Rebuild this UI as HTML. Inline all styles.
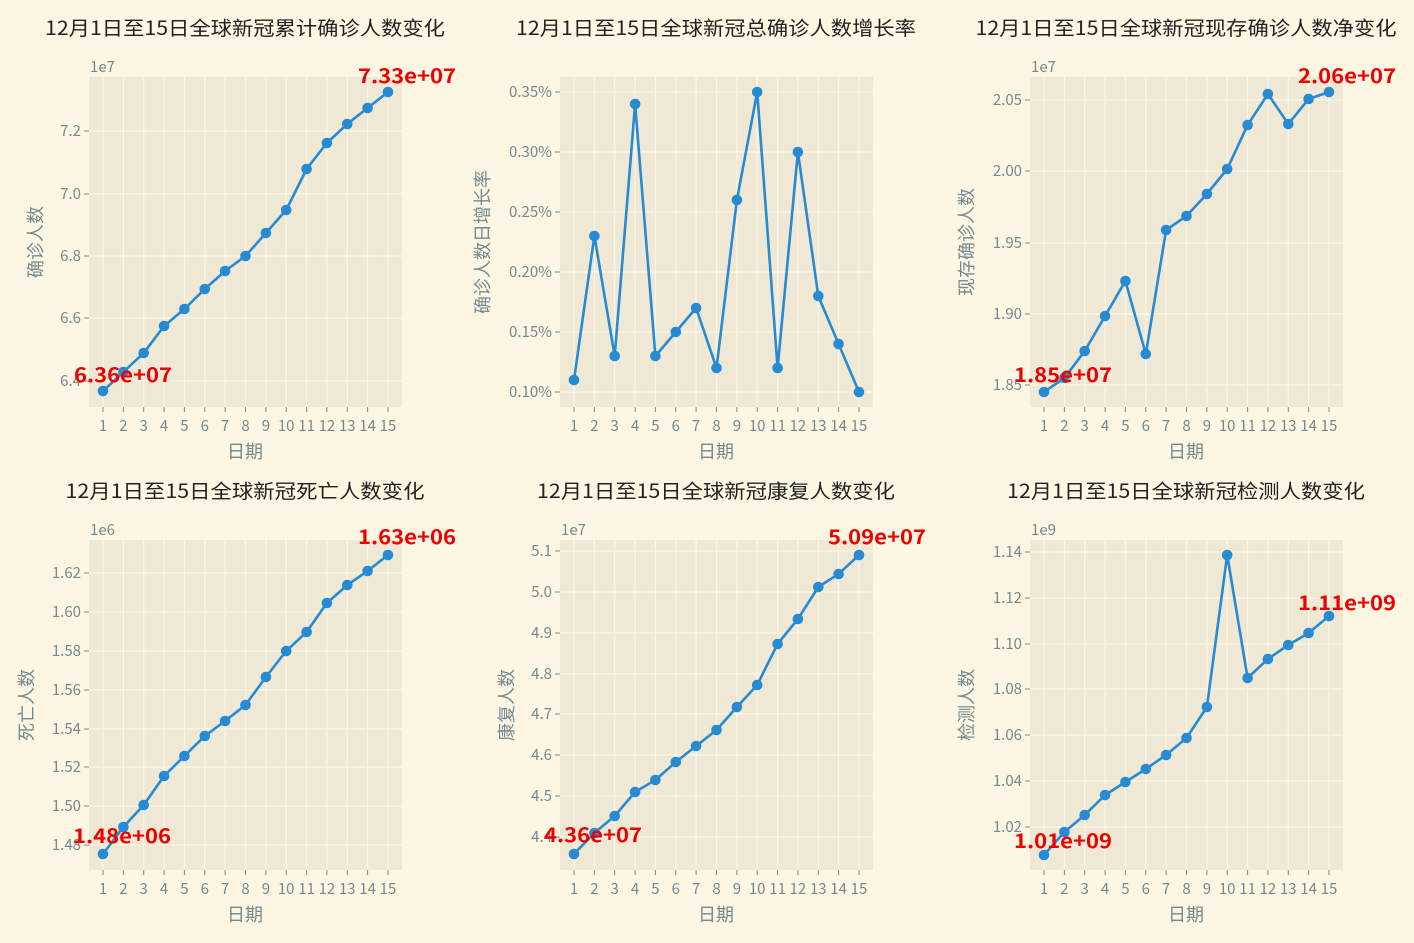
<!DOCTYPE html>
<html><head><meta charset="utf-8"><style>
body{margin:0;background:#fdf6e3}
svg{display:block}
text{font-family:"Noto Sans CJK SC","Liberation Sans",sans-serif}
.t{font-size:19.5px;fill:#222;text-anchor:middle}
.k{font-size:15px;fill:#738a8f}
.yl{text-anchor:end}
.xl{text-anchor:middle}
.lab{font-size:18px;fill:#738a8f;text-anchor:middle}
.an{font-size:20px;fill:#ee0000;font-weight:bold;text-anchor:middle}
.g{stroke:#fdf6e3;stroke-width:1.2}
.tk{stroke:#738a8f;stroke-width:1}
.ln{fill:none;stroke:#268bd2;stroke-width:2.6}
.pt{fill:#268bd2}
</style></head><body>
<svg width="1414" height="943" viewBox="0 0 1414 943" xmlns="http://www.w3.org/2000/svg">
<rect width="1414" height="943" fill="#fdf6e3"/>

<!-- Panel 1 -->
<g transform="translate(89,77)">
<rect width="313" height="330" fill="#eee8d5"/>
<g class="g"><path d="M14 0V330M34.4 0V330M54.7 0V330M75.1 0V330M95.4 0V330M115.8 0V330M136.1 0V330M156.5 0V330M176.9 0V330M197.2 0V330M217.6 0V330M237.9 0V330M258.3 0V330M278.6 0V330M299 0V330M0 304H313M0 241H313M0 179H313M0 117H313M0 54H313"/></g>
<g class="tk"><path d="M14 330v5M34.4 330v5M54.7 330v5M75.1 330v5M95.4 330v5M115.8 330v5M136.1 330v5M156.5 330v5M176.9 330v5M197.2 330v5M217.6 330v5M237.9 330v5M258.3 330v5M278.6 330v5M299 330v5M-5 304h5M-5 241h5M-5 179h5M-5 117h5M-5 54h5"/></g>
<polyline class="ln" points="14,314 34.4,295 54.7,276 75.1,249 95.4,232 115.8,212 136.1,194 156.5,179 176.9,156 197.2,133 217.6,92 237.9,66 258.3,47 278.6,31 299,15"/>
<g class="pt"><circle cx="14" cy="314" r="5.3"/><circle cx="34.4" cy="295" r="5.3"/><circle cx="54.7" cy="276" r="5.3"/><circle cx="75.1" cy="249" r="5.3"/><circle cx="95.4" cy="232" r="5.3"/><circle cx="115.8" cy="212" r="5.3"/><circle cx="136.1" cy="194" r="5.3"/><circle cx="156.5" cy="179" r="5.3"/><circle cx="176.9" cy="156" r="5.3"/><circle cx="197.2" cy="133" r="5.3"/><circle cx="217.6" cy="92" r="5.3"/><circle cx="237.9" cy="66" r="5.3"/><circle cx="258.3" cy="47" r="5.3"/><circle cx="278.6" cy="31" r="5.3"/><circle cx="299" cy="15" r="5.3"/></g>
<g class="k yl"><text x="-8" y="309">6.4</text><text x="-8" y="246">6.6</text><text x="-8" y="184">6.8</text><text x="-8" y="122">7.0</text><text x="-8" y="59">7.2</text></g>
<g class="k xl"><text x="14" y="354">1</text><text x="34.4" y="354">2</text><text x="54.7" y="354">3</text><text x="75.1" y="354">4</text><text x="95.4" y="354">5</text><text x="115.8" y="354">6</text><text x="136.1" y="354">7</text><text x="156.5" y="354">8</text><text x="176.9" y="354">9</text><text x="197.2" y="354">10</text><text x="217.6" y="354">11</text><text x="237.9" y="354">12</text><text x="258.3" y="354">13</text><text x="278.6" y="354">14</text><text x="299" y="354">15</text></g>
<text class="k" x="1" y="-5">1e7</text>
<text class="lab" x="156" y="381">日期</text>
<text class="lab" transform="translate(-47,165) rotate(-90)">确诊人数</text>
<text class="t" x="156" y="-42" textLength="400" lengthAdjust="spacingAndGlyphs">12月1日至15日全球新冠累计确诊人数变化</text>
<text class="an" x="34" y="305" textLength="98" lengthAdjust="spacingAndGlyphs">6.36e+07</text>
<text class="an" x="318" y="6" textLength="98" lengthAdjust="spacingAndGlyphs">7.33e+07</text>
</g>

<!-- Panel 2 -->
<g transform="translate(560,77)">
<rect width="313" height="330" fill="#eee8d5"/>
<g class="g"><path d="M14 0V330M34.4 0V330M54.7 0V330M75.1 0V330M95.4 0V330M115.8 0V330M136.1 0V330M156.5 0V330M176.9 0V330M197.2 0V330M217.6 0V330M237.9 0V330M258.3 0V330M278.6 0V330M299 0V330M0 315H313M0 255H313M0 195H313M0 135H313M0 75H313M0 15H313"/></g>
<g class="tk"><path d="M14 330v5M34.4 330v5M54.7 330v5M75.1 330v5M95.4 330v5M115.8 330v5M136.1 330v5M156.5 330v5M176.9 330v5M197.2 330v5M217.6 330v5M237.9 330v5M258.3 330v5M278.6 330v5M299 330v5M-5 315h5M-5 255h5M-5 195h5M-5 135h5M-5 75h5M-5 15h5"/></g>
<polyline class="ln" points="14,303 34.4,159 54.7,279 75.1,27 95.4,279 115.8,255 136.1,231 156.5,291 176.9,123 197.2,15 217.6,291 237.9,75 258.3,219 278.6,267 299,315"/>
<g class="pt"><circle cx="14" cy="303" r="5.3"/><circle cx="34.4" cy="159" r="5.3"/><circle cx="54.7" cy="279" r="5.3"/><circle cx="75.1" cy="27" r="5.3"/><circle cx="95.4" cy="279" r="5.3"/><circle cx="115.8" cy="255" r="5.3"/><circle cx="136.1" cy="231" r="5.3"/><circle cx="156.5" cy="291" r="5.3"/><circle cx="176.9" cy="123" r="5.3"/><circle cx="197.2" cy="15" r="5.3"/><circle cx="217.6" cy="291" r="5.3"/><circle cx="237.9" cy="75" r="5.3"/><circle cx="258.3" cy="219" r="5.3"/><circle cx="278.6" cy="267" r="5.3"/><circle cx="299" cy="315" r="5.3"/></g>
<g class="k yl"><text x="-8" y="320">0.10%</text><text x="-8" y="260">0.15%</text><text x="-8" y="200">0.20%</text><text x="-8" y="140">0.25%</text><text x="-8" y="80">0.30%</text><text x="-8" y="20">0.35%</text></g>
<g class="k xl"><text x="14" y="354">1</text><text x="34.4" y="354">2</text><text x="54.7" y="354">3</text><text x="75.1" y="354">4</text><text x="95.4" y="354">5</text><text x="115.8" y="354">6</text><text x="136.1" y="354">7</text><text x="156.5" y="354">8</text><text x="176.9" y="354">9</text><text x="197.2" y="354">10</text><text x="217.6" y="354">11</text><text x="237.9" y="354">12</text><text x="258.3" y="354">13</text><text x="278.6" y="354">14</text><text x="299" y="354">15</text></g>
<text class="lab" x="156" y="381">日期</text>
<text class="lab" transform="translate(-71,165) rotate(-90)">确诊人数日增长率</text>
<text class="t" x="156" y="-42" textLength="400" lengthAdjust="spacingAndGlyphs">12月1日至15日全球新冠总确诊人数增长率</text>
</g>

<!-- Panel 3 -->
<g transform="translate(1030,77)">
<rect width="313" height="330" fill="#eee8d5"/>
<g class="g"><path d="M14 0V330M34.4 0V330M54.7 0V330M75.1 0V330M95.4 0V330M115.8 0V330M136.1 0V330M156.5 0V330M176.9 0V330M197.2 0V330M217.6 0V330M237.9 0V330M258.3 0V330M278.6 0V330M299 0V330M0 308H313M0 237H313M0 166H313M0 94H313M0 23H313"/></g>
<g class="tk"><path d="M14 330v5M34.4 330v5M54.7 330v5M75.1 330v5M95.4 330v5M115.8 330v5M136.1 330v5M156.5 330v5M176.9 330v5M197.2 330v5M217.6 330v5M237.9 330v5M258.3 330v5M278.6 330v5M299 330v5M-5 308h5M-5 237h5M-5 166h5M-5 94h5M-5 23h5"/></g>
<polyline class="ln" points="14,315 34.4,301 54.7,274 75.1,239 95.4,204 115.8,277 136.1,153 156.5,139 176.9,117 197.2,92 217.6,48 237.9,17 258.3,47 278.6,22 299,15"/>
<g class="pt"><circle cx="14" cy="315" r="5.3"/><circle cx="34.4" cy="301" r="5.3"/><circle cx="54.7" cy="274" r="5.3"/><circle cx="75.1" cy="239" r="5.3"/><circle cx="95.4" cy="204" r="5.3"/><circle cx="115.8" cy="277" r="5.3"/><circle cx="136.1" cy="153" r="5.3"/><circle cx="156.5" cy="139" r="5.3"/><circle cx="176.9" cy="117" r="5.3"/><circle cx="197.2" cy="92" r="5.3"/><circle cx="217.6" cy="48" r="5.3"/><circle cx="237.9" cy="17" r="5.3"/><circle cx="258.3" cy="47" r="5.3"/><circle cx="278.6" cy="22" r="5.3"/><circle cx="299" cy="15" r="5.3"/></g>
<g class="k yl"><text x="-8" y="313">1.85</text><text x="-8" y="242">1.90</text><text x="-8" y="171">1.95</text><text x="-8" y="99">2.00</text><text x="-8" y="28">2.05</text></g>
<g class="k xl"><text x="14" y="354">1</text><text x="34.4" y="354">2</text><text x="54.7" y="354">3</text><text x="75.1" y="354">4</text><text x="95.4" y="354">5</text><text x="115.8" y="354">6</text><text x="136.1" y="354">7</text><text x="156.5" y="354">8</text><text x="176.9" y="354">9</text><text x="197.2" y="354">10</text><text x="217.6" y="354">11</text><text x="237.9" y="354">12</text><text x="258.3" y="354">13</text><text x="278.6" y="354">14</text><text x="299" y="354">15</text></g>
<text class="k" x="1" y="-5">1e7</text>
<text class="lab" x="156" y="381">日期</text>
<text class="lab" transform="translate(-57,165) rotate(-90)">现存确诊人数</text>
<text class="t" x="156" y="-42" textLength="421" lengthAdjust="spacingAndGlyphs">12月1日至15日全球新冠现存确诊人数净变化</text>
<text class="an" x="33" y="305" textLength="98" lengthAdjust="spacingAndGlyphs">1.85e+07</text>
<text class="an" x="317" y="6" textLength="98" lengthAdjust="spacingAndGlyphs">2.06e+07</text>
</g>

<!-- Panel 4 -->
<g transform="translate(89,540)">
<rect width="313" height="330" fill="#eee8d5"/>
<g class="g"><path d="M14 0V330M34.4 0V330M54.7 0V330M75.1 0V330M95.4 0V330M115.8 0V330M136.1 0V330M156.5 0V330M176.9 0V330M197.2 0V330M217.6 0V330M237.9 0V330M258.3 0V330M278.6 0V330M299 0V330M0 305H313M0 266H313M0 227H313M0 189H313M0 150H313M0 111H313M0 72H313M0 33H313"/></g>
<g class="tk"><path d="M14 330v5M34.4 330v5M54.7 330v5M75.1 330v5M95.4 330v5M115.8 330v5M136.1 330v5M156.5 330v5M176.9 330v5M197.2 330v5M217.6 330v5M237.9 330v5M258.3 330v5M278.6 330v5M299 330v5M-5 305h5M-5 266h5M-5 227h5M-5 189h5M-5 150h5M-5 111h5M-5 72h5M-5 33h5"/></g>
<polyline class="ln" points="14,314 34.4,287 54.7,265 75.1,236 95.4,216 115.8,196 136.1,181 156.5,165 176.9,137 197.2,111 217.6,92 237.9,63 258.3,45 278.6,31 299,15"/>
<g class="pt"><circle cx="14" cy="314" r="5.3"/><circle cx="34.4" cy="287" r="5.3"/><circle cx="54.7" cy="265" r="5.3"/><circle cx="75.1" cy="236" r="5.3"/><circle cx="95.4" cy="216" r="5.3"/><circle cx="115.8" cy="196" r="5.3"/><circle cx="136.1" cy="181" r="5.3"/><circle cx="156.5" cy="165" r="5.3"/><circle cx="176.9" cy="137" r="5.3"/><circle cx="197.2" cy="111" r="5.3"/><circle cx="217.6" cy="92" r="5.3"/><circle cx="237.9" cy="63" r="5.3"/><circle cx="258.3" cy="45" r="5.3"/><circle cx="278.6" cy="31" r="5.3"/><circle cx="299" cy="15" r="5.3"/></g>
<g class="k yl"><text x="-8" y="310">1.48</text><text x="-8" y="271">1.50</text><text x="-8" y="232">1.52</text><text x="-8" y="194">1.54</text><text x="-8" y="155">1.56</text><text x="-8" y="116">1.58</text><text x="-8" y="77">1.60</text><text x="-8" y="38">1.62</text></g>
<g class="k xl"><text x="14" y="354">1</text><text x="34.4" y="354">2</text><text x="54.7" y="354">3</text><text x="75.1" y="354">4</text><text x="95.4" y="354">5</text><text x="115.8" y="354">6</text><text x="136.1" y="354">7</text><text x="156.5" y="354">8</text><text x="176.9" y="354">9</text><text x="197.2" y="354">10</text><text x="217.6" y="354">11</text><text x="237.9" y="354">12</text><text x="258.3" y="354">13</text><text x="278.6" y="354">14</text><text x="299" y="354">15</text></g>
<text class="k" x="1" y="-5">1e6</text>
<text class="lab" x="156" y="381">日期</text>
<text class="lab" transform="translate(-56,165) rotate(-90)">死亡人数</text>
<text class="t" x="156" y="-42" textLength="359" lengthAdjust="spacingAndGlyphs">12月1日至15日全球新冠死亡人数变化</text>
<text class="an" x="33" y="303" textLength="98" lengthAdjust="spacingAndGlyphs">1.48e+06</text>
<text class="an" x="318" y="4" textLength="98" lengthAdjust="spacingAndGlyphs">1.63e+06</text>
</g>

<!-- Panel 5 -->
<g transform="translate(560,540)">
<rect width="313" height="330" fill="#eee8d5"/>
<g class="g"><path d="M14 0V330M34.4 0V330M54.7 0V330M75.1 0V330M95.4 0V330M115.8 0V330M136.1 0V330M156.5 0V330M176.9 0V330M197.2 0V330M217.6 0V330M237.9 0V330M258.3 0V330M278.6 0V330M299 0V330M0 297H313M0 256H313M0 215H313M0 174H313M0 134H313M0 93H313M0 52H313M0 11H313"/></g>
<g class="tk"><path d="M14 330v5M34.4 330v5M54.7 330v5M75.1 330v5M95.4 330v5M115.8 330v5M136.1 330v5M156.5 330v5M176.9 330v5M197.2 330v5M217.6 330v5M237.9 330v5M258.3 330v5M278.6 330v5M299 330v5M-5 297h5M-5 256h5M-5 215h5M-5 174h5M-5 134h5M-5 93h5M-5 52h5M-5 11h5"/></g>
<polyline class="ln" points="14,314 34.4,293 54.7,276 75.1,252 95.4,240 115.8,222 136.1,206 156.5,190 176.9,167 197.2,145 217.6,104 237.9,79 258.3,47 278.6,34 299,15"/>
<g class="pt"><circle cx="14" cy="314" r="5.3"/><circle cx="34.4" cy="293" r="5.3"/><circle cx="54.7" cy="276" r="5.3"/><circle cx="75.1" cy="252" r="5.3"/><circle cx="95.4" cy="240" r="5.3"/><circle cx="115.8" cy="222" r="5.3"/><circle cx="136.1" cy="206" r="5.3"/><circle cx="156.5" cy="190" r="5.3"/><circle cx="176.9" cy="167" r="5.3"/><circle cx="197.2" cy="145" r="5.3"/><circle cx="217.6" cy="104" r="5.3"/><circle cx="237.9" cy="79" r="5.3"/><circle cx="258.3" cy="47" r="5.3"/><circle cx="278.6" cy="34" r="5.3"/><circle cx="299" cy="15" r="5.3"/></g>
<g class="k yl"><text x="-8" y="302">4.4</text><text x="-8" y="261">4.5</text><text x="-8" y="220">4.6</text><text x="-8" y="179">4.7</text><text x="-8" y="139">4.8</text><text x="-8" y="98">4.9</text><text x="-8" y="57">5.0</text><text x="-8" y="16">5.1</text></g>
<g class="k xl"><text x="14" y="354">1</text><text x="34.4" y="354">2</text><text x="54.7" y="354">3</text><text x="75.1" y="354">4</text><text x="95.4" y="354">5</text><text x="115.8" y="354">6</text><text x="136.1" y="354">7</text><text x="156.5" y="354">8</text><text x="176.9" y="354">9</text><text x="197.2" y="354">10</text><text x="217.6" y="354">11</text><text x="237.9" y="354">12</text><text x="258.3" y="354">13</text><text x="278.6" y="354">14</text><text x="299" y="354">15</text></g>
<text class="k" x="1" y="-5">1e7</text>
<text class="lab" x="156" y="381">日期</text>
<text class="lab" transform="translate(-47,165) rotate(-90)">康复人数</text>
<text class="t" x="156" y="-42" textLength="358" lengthAdjust="spacingAndGlyphs">12月1日至15日全球新冠康复人数变化</text>
<text class="an" x="33" y="302" textLength="98" lengthAdjust="spacingAndGlyphs">4.36e+07</text>
<text class="an" x="317" y="4" textLength="98" lengthAdjust="spacingAndGlyphs">5.09e+07</text>
</g>

<!-- Panel 6 -->
<g transform="translate(1030,540)">
<rect width="313" height="330" fill="#eee8d5"/>
<g class="g"><path d="M14 0V330M34.4 0V330M54.7 0V330M75.1 0V330M95.4 0V330M115.8 0V330M136.1 0V330M156.5 0V330M176.9 0V330M197.2 0V330M217.6 0V330M237.9 0V330M258.3 0V330M278.6 0V330M299 0V330M0 287H313M0 241H313M0 195H313M0 149H313M0 104H313M0 58H313M0 12H313"/></g>
<g class="tk"><path d="M14 330v5M34.4 330v5M54.7 330v5M75.1 330v5M95.4 330v5M115.8 330v5M136.1 330v5M156.5 330v5M176.9 330v5M197.2 330v5M217.6 330v5M237.9 330v5M258.3 330v5M278.6 330v5M299 330v5M-5 287h5M-5 241h5M-5 195h5M-5 149h5M-5 104h5M-5 58h5M-5 12h5"/></g>
<polyline class="ln" points="14,315 34.4,292 54.7,275 75.1,255 95.4,242 115.8,229 136.1,215 156.5,198 176.9,167 197.2,15 217.6,138 237.9,119 258.3,105 278.6,93 299,76"/>
<g class="pt"><circle cx="14" cy="315" r="5.3"/><circle cx="34.4" cy="292" r="5.3"/><circle cx="54.7" cy="275" r="5.3"/><circle cx="75.1" cy="255" r="5.3"/><circle cx="95.4" cy="242" r="5.3"/><circle cx="115.8" cy="229" r="5.3"/><circle cx="136.1" cy="215" r="5.3"/><circle cx="156.5" cy="198" r="5.3"/><circle cx="176.9" cy="167" r="5.3"/><circle cx="197.2" cy="15" r="5.3"/><circle cx="217.6" cy="138" r="5.3"/><circle cx="237.9" cy="119" r="5.3"/><circle cx="258.3" cy="105" r="5.3"/><circle cx="278.6" cy="93" r="5.3"/><circle cx="299" cy="76" r="5.3"/></g>
<g class="k yl"><text x="-8" y="292">1.02</text><text x="-8" y="246">1.04</text><text x="-8" y="200">1.06</text><text x="-8" y="154">1.08</text><text x="-8" y="109">1.10</text><text x="-8" y="63">1.12</text><text x="-8" y="17">1.14</text></g>
<g class="k xl"><text x="14" y="354">1</text><text x="34.4" y="354">2</text><text x="54.7" y="354">3</text><text x="75.1" y="354">4</text><text x="95.4" y="354">5</text><text x="115.8" y="354">6</text><text x="136.1" y="354">7</text><text x="156.5" y="354">8</text><text x="176.9" y="354">9</text><text x="197.2" y="354">10</text><text x="217.6" y="354">11</text><text x="237.9" y="354">12</text><text x="258.3" y="354">13</text><text x="278.6" y="354">14</text><text x="299" y="354">15</text></g>
<text class="k" x="1" y="-5">1e9</text>
<text class="lab" x="156" y="381">日期</text>
<text class="lab" transform="translate(-57,165) rotate(-90)">检测人数</text>
<text class="t" x="156" y="-42" textLength="358" lengthAdjust="spacingAndGlyphs">12月1日至15日全球新冠检测人数变化</text>
<text class="an" x="33" y="308" textLength="98" lengthAdjust="spacingAndGlyphs">1.01e+09</text>
<text class="an" x="317" y="70" textLength="98" lengthAdjust="spacingAndGlyphs">1.11e+09</text>
</g>
</svg>
</body></html>
